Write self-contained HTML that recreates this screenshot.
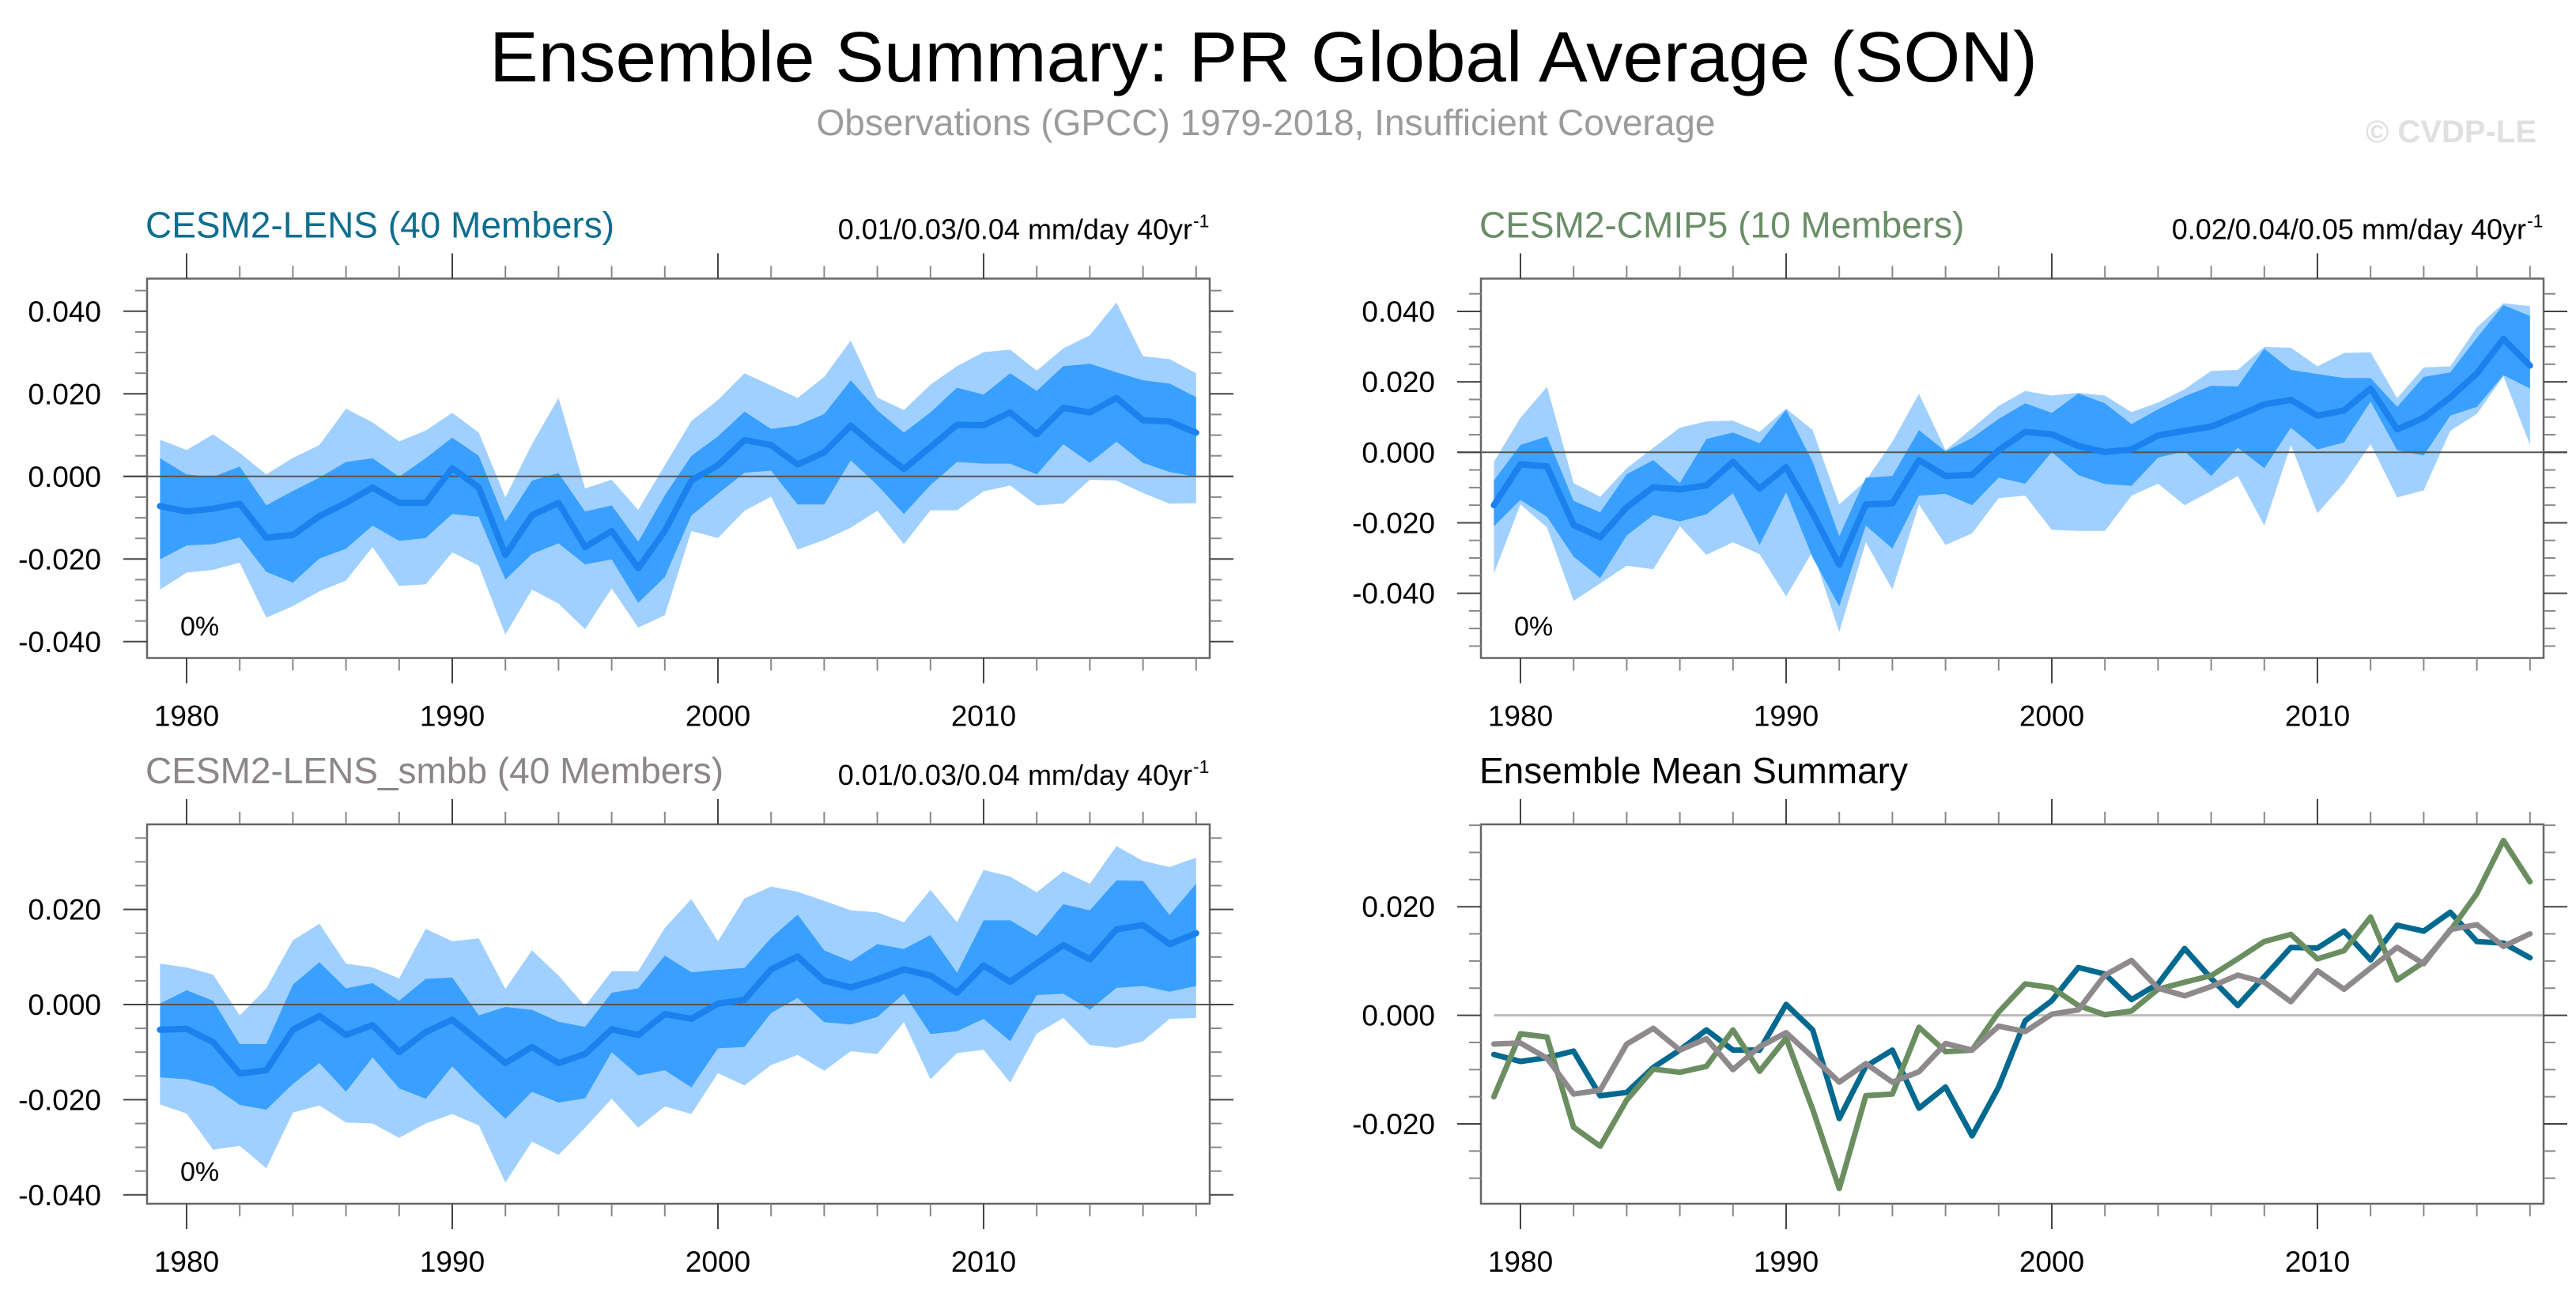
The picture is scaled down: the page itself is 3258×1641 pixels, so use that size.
<!DOCTYPE html>
<html><head><meta charset="utf-8">
<style>
html,body{margin:0;padding:0;background:#fff;}
svg{display:block;font-family:"Liberation Sans",Arial,sans-serif;}
</style></head>
<body>
<svg id="chart" width="3258" height="1641" viewBox="0 0 3258 1641" xmlns="http://www.w3.org/2000/svg">
<rect width="3258" height="1641" fill="#fff"/>
<text x="1598" y="103" font-size="90" text-anchor="middle" fill="#000" textLength="1958" lengthAdjust="spacingAndGlyphs">Ensemble Summary: PR Global Average (SON)</text>
<text x="1601" y="171" font-size="46" text-anchor="middle" fill="#9b9b9b">Observations (GPCC) 1979-2018, Insufficient Coverage</text>
<text x="3208" y="180" font-size="40" font-weight="bold" text-anchor="end" fill="#e0e0e0">© CVDP-LE</text>
<g id="plots"></g>
</svg>
<script>
const years = [];
for (let y = 1979; y <= 2018; y++) years.push(y);

// Panel 1: CESM2-LENS
const lensMean = [-0.0072,-0.0085,-0.0078,-0.0066,-0.0148,-0.0142,-0.0096,-0.0064,-0.0027,-0.0064,-0.0064,0.0020,-0.0027,-0.0190,-0.0094,-0.0064,-0.0171,-0.0132,-0.0222,-0.0132,-0.0010,0.0027,0.0088,0.0076,0.0029,0.0058,0.0123,0.0068,0.0018,0.0071,0.0125,0.0124,0.0155,0.0102,0.0166,0.0155,0.0190,0.0136,0.0133,0.0106];
const lensP25 = [-0.0201,-0.0167,-0.0164,-0.0148,-0.0231,-0.0257,-0.0199,-0.0175,-0.0119,-0.0156,-0.0149,-0.0091,-0.0098,-0.0250,-0.0188,-0.0162,-0.0213,-0.0201,-0.0306,-0.0244,-0.0095,-0.0042,0.0009,0.0014,-0.0068,-0.0068,0.0039,-0.0021,-0.0091,-0.0021,0.0035,0.0031,0.0031,0.0005,0.0078,0.0033,0.0084,0.0033,0.0011,-0.0001];
const lensP75 = [0.0044,0.0005,-0.0001,0.0024,-0.0070,-0.0035,-0.0003,0.0035,0.0044,-0.0001,0.0044,0.0094,0.0050,-0.0109,-0.0010,0.0008,-0.0085,-0.0070,-0.0158,-0.0046,0.0050,0.0097,0.0157,0.0115,0.0124,0.0151,0.0233,0.0160,0.0106,0.0155,0.0215,0.0198,0.0250,0.0207,0.0267,0.0273,0.0252,0.0233,0.0225,0.0192];
const lensMin = [-0.0274,-0.0233,-0.0226,-0.0209,-0.0342,-0.0314,-0.0278,-0.0252,-0.0171,-0.0265,-0.0261,-0.0184,-0.0216,-0.0383,-0.0274,-0.0308,-0.0370,-0.0271,-0.0366,-0.0336,-0.0132,-0.0149,-0.0083,-0.0049,-0.0177,-0.0154,-0.0124,-0.0083,-0.0164,-0.0082,-0.0082,-0.0036,-0.0022,-0.0070,-0.0066,-0.0008,-0.0010,-0.0040,-0.0066,-0.0065];
const lensMax = [0.0089,0.0064,0.0102,0.0057,0.0005,0.0045,0.0076,0.0164,0.0131,0.0085,0.0111,0.0154,0.0106,-0.0051,0.0078,0.0190,-0.0029,-0.0008,-0.0081,0.0027,0.0134,0.0185,0.0250,0.0220,0.0190,0.0241,0.0329,0.0191,0.0161,0.0222,0.0267,0.0301,0.0307,0.0256,0.0310,0.0342,0.0421,0.0291,0.0284,0.0250];

// Panel 2: CESM2-CMIP5
const cmip5Mean = [-0.0150,-0.0034,-0.0040,-0.0206,-0.0241,-0.0156,-0.0099,-0.0105,-0.0094,-0.0027,-0.0103,-0.0042,-0.0173,-0.0319,-0.0148,-0.0145,-0.0022,-0.0067,-0.0064,0.0006,0.0058,0.0051,0.0018,0.0001,0.0008,0.0048,0.0061,0.0073,0.0104,0.0136,0.0149,0.0104,0.0119,0.0181,0.0065,0.0098,0.0156,0.0224,0.0322,0.0246];
const cmip5P25 = [-0.0210,-0.0135,-0.0183,-0.0296,-0.0357,-0.0236,-0.0178,-0.0196,-0.0176,-0.0116,-0.0263,-0.0113,-0.0299,-0.0437,-0.0208,-0.0273,-0.0123,-0.0118,-0.0150,-0.0072,-0.0089,0.0001,-0.0065,-0.0090,-0.0095,-0.0015,0.0003,-0.0067,0.0013,-0.0045,0.0070,0.0008,0.0028,0.0144,0.0006,-0.0009,0.0104,0.0129,0.0219,0.0181];
const cmip5P75 = [-0.0080,0.0021,0.0045,-0.0138,-0.0170,-0.0062,-0.0022,-0.0087,0.0038,0.0056,0.0026,0.0121,-0.0027,-0.0238,-0.0072,-0.0067,0.0063,0.0003,0.0041,0.0095,0.0139,0.0112,0.0167,0.0139,0.0080,0.0122,0.0159,0.0189,0.0187,0.0294,0.0234,0.0222,0.0211,0.0211,0.0129,0.0214,0.0227,0.0325,0.0418,0.0387];
const cmip5Min = [-0.0344,-0.0148,-0.0213,-0.0422,-0.0372,-0.0322,-0.0332,-0.0210,-0.0291,-0.0255,-0.0289,-0.0409,-0.0281,-0.0510,-0.0255,-0.0389,-0.0148,-0.0263,-0.0230,-0.0130,-0.0123,-0.0220,-0.0223,-0.0223,-0.0123,-0.0089,-0.0150,-0.0110,-0.0067,-0.0208,0.0021,-0.0173,-0.0087,0.0023,-0.0128,-0.0108,0.0061,0.0109,0.0216,0.0021];
const cmip5Max = [-0.0027,0.0098,0.0186,-0.0087,-0.0126,-0.0045,0.0013,0.0070,0.0088,0.0090,0.0058,0.0124,0.0063,-0.0148,-0.0080,0.0030,0.0166,0.0006,0.0068,0.0132,0.0174,0.0161,0.0169,0.0161,0.0114,0.0141,0.0179,0.0231,0.0234,0.0299,0.0297,0.0244,0.0282,0.0284,0.0154,0.0241,0.0244,0.0355,0.0423,0.0415];

// Panel 3: CESM2-LENS_smbb
const smbbMean = [-0.0053,-0.0051,-0.0079,-0.0145,-0.0138,-0.0053,-0.0024,-0.0064,-0.0043,-0.0100,-0.0058,-0.0032,-0.0077,-0.0123,-0.0089,-0.0123,-0.0104,-0.0052,-0.0064,-0.0020,-0.0030,0.0002,0.0010,0.0074,0.0101,0.0050,0.0036,0.0053,0.0074,0.0061,0.0025,0.0082,0.0048,0.0087,0.0125,0.0095,0.0158,0.0167,0.0127,0.0150];
const smbbP25 = [-0.0153,-0.0157,-0.0172,-0.0211,-0.0221,-0.0167,-0.0123,-0.0183,-0.0111,-0.0176,-0.0198,-0.0130,-0.0187,-0.0240,-0.0183,-0.0206,-0.0197,-0.0100,-0.0149,-0.0138,-0.0174,-0.0092,-0.0089,-0.0018,0.0014,-0.0037,-0.0042,-0.0026,0.0023,-0.0062,-0.0056,-0.0030,-0.0077,0.0020,0.0023,-0.0011,0.0035,0.0039,0.0027,0.0039];
const smbbP75 = [0.0002,0.0030,0.0008,-0.0083,-0.0083,0.0042,0.0089,0.0034,0.0045,0.0008,0.0054,0.0057,-0.0023,-0.0005,-0.0011,-0.0036,-0.0047,0.0025,0.0034,0.0103,0.0068,0.0073,0.0077,0.0140,0.0189,0.0114,0.0091,0.0127,0.0117,0.0146,0.0067,0.0177,0.0177,0.0144,0.0211,0.0198,0.0261,0.0260,0.0188,0.0254];
const smbbMin = [-0.0210,-0.0229,-0.0305,-0.0297,-0.0344,-0.0227,-0.0212,-0.0248,-0.0250,-0.0280,-0.0250,-0.0230,-0.0254,-0.0374,-0.0288,-0.0316,-0.0259,-0.0198,-0.0259,-0.0214,-0.0230,-0.0144,-0.0170,-0.0127,-0.0106,-0.0139,-0.0098,-0.0104,-0.0037,-0.0157,-0.0102,-0.0095,-0.0164,-0.0061,-0.0028,-0.0085,-0.0091,-0.0077,-0.0030,-0.0028];
const smbbMax = [0.0086,0.0078,0.0063,-0.0023,0.0034,0.0135,0.0170,0.0086,0.0078,0.0055,0.0159,0.0133,0.0139,0.0033,0.0114,0.0061,-0.0003,0.0070,0.0070,0.0161,0.0222,0.0133,0.0223,0.0248,0.0237,0.0218,0.0198,0.0194,0.0173,0.0241,0.0173,0.0283,0.0269,0.0236,0.0280,0.0254,0.0333,0.0302,0.0289,0.0309];

const xTickYears = [1980, 1990, 2000, 2010];
const yTicks1 = [0.040, 0.020, 0.000, -0.020, -0.040];
const yTicks4 = [0.020, 0.000, -0.020];

const NS = "http://www.w3.org/2000/svg";
const root = document.getElementById('plots');
function mk(tag, attrs, parent) {
  const e = document.createElementNS(NS, tag);
  for (const k in attrs) e.setAttribute(k, attrs[k]);
  (parent || root).appendChild(e);
  return e;
}

function panel(cfg) {
  const g = mk('g', {});
  
  
  const L = cfg.left, R = cfg.left + 1344, T = cfg.top, B = cfg.top + 480;
  const xs = yr => L + 16.4 + (yr - 1979) * 33.6;
  const ys = v => cfg.zeroY - v * cfg.pxPerUnit;
  const vTop = (cfg.zeroY - T) / cfg.pxPerUnit, vBot = (cfg.zeroY - B) / cfg.pxPerUnit;

  function band(lo, hi, color, nm) {
    let d = '';
    years.forEach((y, i) => { d += (i ? 'L' : 'M') + xs(y).toFixed(1) + ',' + ys(hi[i]).toFixed(1); });
    for (let i = years.length - 1; i >= 0; i--) d += 'L' + xs(years[i]).toFixed(1) + ',' + ys(lo[i]).toFixed(1);
    const p = mk('path', { d: d + 'Z', fill: color }, g);
    
    
  }
  function line(vals, color, w, nm) {
    let d = '';
    years.forEach((y, i) => { d += (i ? 'L' : 'M') + xs(y).toFixed(1) + ',' + ys(vals[i]).toFixed(1); });
    const p = mk('path', { d: d, fill: 'none', stroke: color, 'stroke-width': w, 'stroke-linejoin': 'round', 'stroke-linecap': 'round' }, g);
    
    
  }

  if (cfg.bands) {
    band(cfg.bands.min, cfg.bands.max, '#a0d0ff', 'min-max-range-band');
    band(cfg.bands.p25, cfg.bands.p75, '#3aa0ff', 'interquartile-range-band');
  }
  const zl = mk('line', cfg.bands ? { x1: L - 30, x2: R + 30, y1: ys(0), y2: ys(0), stroke: '#555', 'stroke-width': 2 }
                                   : { x1: xs(1979), x2: R, y1: ys(0), y2: ys(0), stroke: '#bbb', 'stroke-width': 3 }, g);
  
  
  if (cfg.bands) line(cfg.bands.mean, '#1a82ee', 8, 'ensemble-mean-line');
  if (cfg.lines) cfg.lines.forEach(l => line(l.vals, l.color, 7, l.name));

  const fr = mk('rect', { x: L, y: T, width: R - L, height: B - T, fill: 'none', stroke: '#666', 'stroke-width': 2.5 }, g);
  
  

  for (let yr = 1980; yr <= 2018; yr += 2) {
    const major = yr % 10 === 0;
    const len = major ? 32 : 16;
    const c = major ? '#444' : '#888';
    mk('line', { x1: xs(yr), x2: xs(yr), y1: T, y2: T - len, stroke: c, 'stroke-width': 2 }, g);
    mk('line', { x1: xs(yr), x2: xs(yr), y1: B, y2: B + len, stroke: c, 'stroke-width': 2 }, g);
  }
  xTickYears.forEach(yr => {
    const t = mk('text', { x: xs(yr), y: B + 86, 'font-size': 37, 'text-anchor': 'middle', fill: '#000' }, g);
    t.textContent = yr;
    
    
  });
  for (let k = Math.ceil(vBot / 0.005); k <= Math.floor(vTop / 0.005); k++) {
    const v = k * 0.005;
    const major = k % 4 === 0;
    const len = major ? 30 : 15;
    const c = major ? '#444' : '#888';
    mk('line', { x1: L, x2: L - len, y1: ys(v), y2: ys(v), stroke: c, 'stroke-width': 2 }, g);
    mk('line', { x1: R, x2: R + len, y1: ys(v), y2: ys(v), stroke: c, 'stroke-width': 2 }, g);
  }
  cfg.yTicks.forEach(v => {
    if (v > vTop || v < vBot) return;
    const t = mk('text', { x: L - 58, y: ys(v) + 13, 'font-size': 37, 'text-anchor': 'end', fill: '#000' }, g);
    t.textContent = v.toFixed(3);
    
    
  });
  const tt = mk('text', { x: L - 2, y: T - 52, 'font-size': 46, fill: cfg.titleColor }, g);
  tt.textContent = cfg.title;
  
  
  if (cfg.trend) {
    const tr = mk('text', { x: R - 22, y: T - 50, 'font-size': 36, 'text-anchor': 'end', fill: '#000' }, g);
    tr.textContent = cfg.trend;
    
    
    const sp = mk('text', { x: R - 21, y: T - 65, 'font-size': 23, fill: '#000' }, g);
    sp.textContent = '-1';
    
    
    const pc = mk('text', { x: L + 42, y: cfg.pctY, 'font-size': 34, fill: '#000' }, g);
    pc.textContent = '0%';
    
    
  }
}

panel({ name: 'panel-cesm2-lens', left: 186, top: 352.5, zeroY: 602.8, pxPerUnit: 5225, yTicks: yTicks1,
  title: 'CESM2-LENS (40 Members)', titleColor: '#0e6e90', trend: '0.01/0.03/0.04 mm/day 40yr', pctY: 804,
  bands: { mean: lensMean, p25: lensP25, p75: lensP75, min: lensMin, max: lensMax } });
panel({ name: 'panel-cesm2-cmip5', left: 1873, top: 352.5, zeroY: 572.3, pxPerUnit: 4457.5, yTicks: yTicks1,
  title: 'CESM2-CMIP5 (10 Members)', titleColor: '#6a8e67', trend: '0.02/0.04/0.05 mm/day 40yr', pctY: 804,
  bands: { mean: cmip5Mean, p25: cmip5P25, p75: cmip5P75, min: cmip5Min, max: cmip5Max } });
panel({ name: 'panel-cesm2-lens-smbb', left: 186, top: 1043, zeroY: 1271, pxPerUnit: 6020, yTicks: yTicks1,
  title: 'CESM2-LENS_smbb (40 Members)', titleColor: '#8c8689', trend: '0.01/0.03/0.04 mm/day 40yr', pctY: 1494,
  bands: { mean: smbbMean, p25: smbbP25, p75: smbbP75, min: smbbMin, max: smbbMax } });
panel({ name: 'panel-ensemble-mean-summary', left: 1873, top: 1043, zeroY: 1284.6, pxPerUnit: 6870, yTicks: yTicks4,
  title: 'Ensemble Mean Summary', titleColor: '#000',
  lines: [ { vals: lensMean, color: '#00698f', name: 'cesm2-lens-mean-line' },
           { vals: cmip5Mean, color: '#6a8e60', name: 'cesm2-cmip5-mean-line' },
           { vals: smbbMean, color: '#8e898c', name: 'cesm2-lens-smbb-mean-line' } ] });
</script>
</body></html>
